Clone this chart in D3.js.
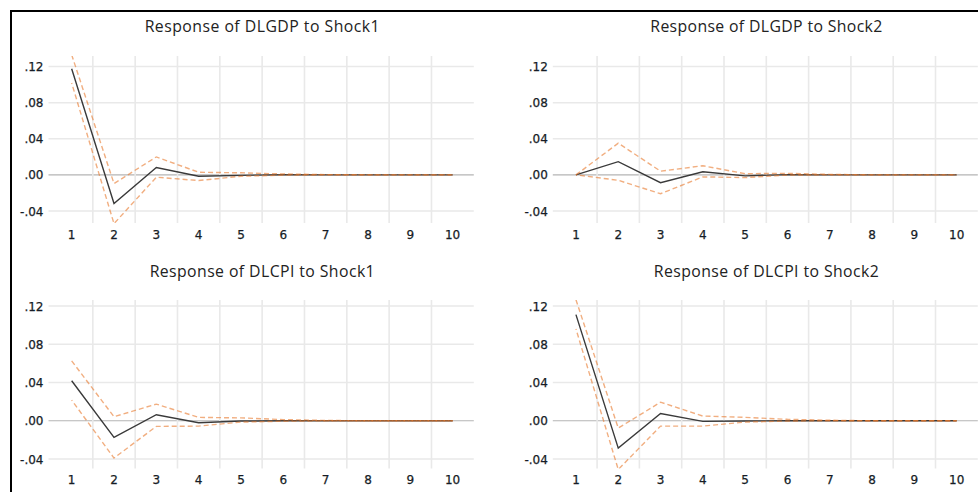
<!DOCTYPE html>
<html>
<head>
<meta charset="utf-8">
<script src="https://cdn.jsdelivr.net/npm/d3@7/dist/d3.min.js"></script>
<style>
html,body{margin:0;padding:0;background:#fff;}
svg{display:block;}
</style>
</head>
<body>
<svg id="chart" width="978" height="492"></svg>
<script>
// ---------- data ----------
const periods = [1,2,3,4,5,6,7,8,9,10];
const yTicks = [-0.04, 0.00, 0.04, 0.08, 0.12];
const yTickLabels = ["-.04", ".00", ".04", ".08", ".12"];
const titles = [
  "Response of DLGDP to Shock1",
  "Response of DLGDP to Shock2",
  "Response of DLCPI to Shock1",
  "Response of DLCPI to Shock2"
];

const gdpShock1 = [0.1175, -0.0317, 0.0081, -0.0015, -0.0005, 0.0002, 0, 0, 0, 0];
const gdpShock1Up = [0.133, -0.0096, 0.0199, 0.0029, 0.0023, 0.0010, 0.0003, 0, 0, 0];
const gdpShock1Lo = [0.1017, -0.0540, -0.0026, -0.0063, -0.0015, -0.0003, 0, 0, 0, 0];

const gdpShock2 = [0, 0.0146, -0.0086, 0.0034, -0.0011, 0.0003, 0, 0, 0, 0];
const gdpShock2Up = [0, 0.0351, 0.0041, 0.0101, 0.0013, 0.0017, 0.0005, 0, 0, 0];
const gdpShock2Lo = [0, -0.0060, -0.0209, -0.0022, -0.0030, -0.0002, 0, 0, 0, 0];

const cpiShock1 = [0.0418, -0.0174, 0.0063, -0.0021, -0.0003, 0, 0, 0, 0, 0];
const cpiShock1Up = [0.0626, 0.0042, 0.0174, 0.0035, 0.0030, 0.0012, 0.0003, 0, 0, 0];
const cpiShock1Lo = [0.0216, -0.0390, -0.0059, -0.0056, -0.0014, -0.0005, 0, 0, 0, 0];

const cpiShock2 = [0.1110, -0.0286, 0.0076, -0.0007, -0.0003, 0, 0, 0, 0, 0];
const cpiShock2Up = [0.1266, -0.0077, 0.0194, 0.0049, 0.0035, 0.0015, 0.0005, 0, 0, 0];
const cpiShock2Lo = [0.0960, -0.0510, -0.0056, -0.0056, -0.0014, -0.0003, 0, 0, 0, 0];

const panelSeries = [
  [gdpShock1, gdpShock1Up, gdpShock1Lo],
  [gdpShock2, gdpShock2Up, gdpShock2Lo],
  [cpiShock1, cpiShock1Up, cpiShock1Lo],
  [cpiShock2, cpiShock2Up, cpiShock2Lo]
];

// ---------- layout ----------
const svg = d3.select("#chart");
const cols = [{x0: 50.5, x1: 473.8}, {x0: 554.8, x1: 977.8}];
const rows = [
  {top: 56, bottom: 223, yLo: 211, yHi: 66.5, titleY: 31.5, tickY: 238.5},
  {top: 300, bottom: 468.5, yLo: 459, yHi: 306, titleY: 276.5, tickY: 483.5}
];
const titleWidths = [235, 232, 225, 225];

// frame
svg.append("rect")
  .attr("x", 11).attr("y", 11)
  .attr("width", 1000).attr("height", 600)
  .attr("fill", "none").attr("stroke", "#000").attr("stroke-width", 2);

const FONT = "'DejaVu Sans', Verdana, sans-serif";

panelSeries.forEach((series, i) => {
  const c = cols[i % 2], r = rows[Math.floor(i / 2)];
  const x = d3.scaleLinear().domain([0.5, 10.5]).range([c.x0, c.x1]);
  const y = d3.scaleLinear().domain([-0.04, 0.12]).range([r.yLo, r.yHi]);
  const g = svg.append("g");

  const clipId = "clip" + i;
  svg.append("clipPath").attr("id", clipId)
    .append("rect").attr("x", c.x0).attr("y", r.top)
    .attr("width", c.x1 - c.x0).attr("height", r.bottom - r.top);

  // horizontal grid
  g.selectAll(".hg").data(yTicks).enter().append("line")
    .attr("x1", c.x0 - 2).attr("x2", c.x1)
    .attr("y1", d => y(d)).attr("y2", d => y(d))
    .attr("stroke", d => d === 0 ? "#b4b4b4" : "#e9e9e9")
    .attr("stroke-width", d => d === 0 ? 1.2 : 1.5);

  // vertical grid at half periods
  const vgrid = periods.slice(0, 9).map(p => p + 0.5);
  g.selectAll(".vg").data(vgrid).enter().append("line")
    .attr("x1", d => x(d)).attr("x2", d => x(d))
    .attr("y1", r.top).attr("y2", r.bottom)
    .attr("stroke", "#e9e9e9").attr("stroke-width", 1.6);

  // y tick labels
  g.selectAll(".yl").data(yTicks).enter().append("text")
    .attr("x", c.x0 - 7).attr("y", d => y(d) + 4.5)
    .attr("text-anchor", "end")
    .attr("font-family", FONT).attr("font-size", 12)
    .attr("fill", "#161c26")
    .attr("stroke", "#161c26").attr("stroke-width", 0.25)
    .text((d, k) => yTickLabels[k]);

  // x tick labels
  g.selectAll(".xl").data(periods).enter().append("text")
    .attr("x", d => x(d)).attr("y", r.tickY)
    .attr("text-anchor", "middle")
    .attr("font-family", FONT).attr("font-size", 12)
    .attr("fill", "#161c26")
    .attr("stroke", "#161c26").attr("stroke-width", 0.25)
    .text(d => d);

  // title
  g.append("text")
    .attr("x", (c.x0 + c.x1) / 2).attr("y", r.titleY)
    .attr("text-anchor", "middle")
    .attr("font-family", "'Open Sans', 'Noto Sans', sans-serif")
    .attr("font-size", 15.8)
    .attr("textLength", titleWidths[i])
    .attr("lengthAdjust", "spacing")
    .attr("fill", "#222")
    .text(titles[i]);

  const line = d3.line().x((d, k) => x(periods[k])).y(d => y(d));
  const plot = g.append("g").attr("clip-path", `url(#${clipId})`);

  plot.append("path").datum(series[0])
    .attr("d", line).attr("fill", "none")
    .attr("stroke", "#3a3a3a").attr("stroke-width", 1.4);

  [series[1], series[2]].forEach((s, k) => {
    plot.append("path").datum(s)
      .attr("d", line).attr("fill", "none")
      .attr("stroke", "#e8782c").attr("stroke-opacity", 0.6)
      .attr("stroke-width", 1.4)
      .attr("stroke-dasharray", "5,3")
      .attr("stroke-dashoffset", k * 4);
  });
});
</script>
</body>
</html>
